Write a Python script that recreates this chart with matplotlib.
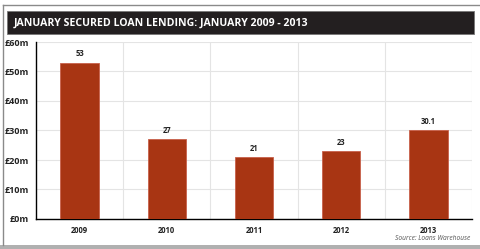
import matplotlib.pyplot as plt
import matplotlib.patches as patches
from matplotlib.lines import Line2D

years = ['2009', '2010', '2011', '2012', '2013']
lending = [53, 27, 21, 23, 30.1]
value_labels = ['53', '27', '21', '23', '30.1']
y_ticks = [0, 10, 20, 30, 40, 50, 60]
y_tick_labels = ['£0m', '£10m', '£20m', '£30m', '£40m', '£50m', '£60m']

W, H = 480, 249
fig = plt.figure(figsize=(W / 100, H / 100), dpi=100)
plt.rcParams['font.family'] = ['Open Sans', 'DejaVu Sans']

# outer frame (top and left only) and bottom band
fig.lines.append(Line2D([2.5 / W, 1], [1 - 5.5 / H, 1 - 5.5 / H], transform=fig.transFigure,
                        color='#8a8a8a', linewidth=1.0))
fig.lines.append(Line2D([2.5 / W, 2.5 / W], [4 / H, 1 - 5.5 / H], transform=fig.transFigure,
                        color='#8a8a8a', linewidth=1.0))
fig.patches.append(patches.Rectangle((0, 0), 1, 4 / H, transform=fig.transFigure,
                                     facecolor='#b0b0b0', edgecolor='none'))
# title bar
fig.patches.append(patches.Rectangle((7 / W, 1 - 34 / H), 467 / W, 23 / H, transform=fig.transFigure,
                                     facecolor='#231f20', edgecolor='#777777', linewidth=0.6))
fig.text(14 / W, 1 - 23 / H, 'JANUARY SECURED LOAN LENDING: JANUARY 2009 - 2013',
         color='white', fontsize=7.6, fontweight='bold', va='center', ha='left')

ax = fig.add_axes([36 / W, 1 - 219 / H, 436 / W, 177 / H])
x = range(len(years))
ax.bar(x, lending, width=0.44, color='#a83513', edgecolor='#c8604a', linewidth=0.6, zorder=3)
for i, (v, lab) in enumerate(zip(lending, value_labels)):
    ax.text(i, v + 1.5, lab, ha='center', va='bottom', fontsize=5.5, fontweight='bold', color='#222222')

ax.set_xlim(-0.5, len(years) - 0.5)
ax.set_ylim(0, 60)
ax.set_yticks(y_ticks)
ax.set_yticklabels(y_tick_labels, fontsize=6.5, fontweight='bold', color='#222222')
ax.set_xticks(list(x))
ax.set_xticklabels(years, fontsize=5.5, fontweight='bold', color='#222222')
ax.tick_params(axis='both', length=0, pad=5)
ax.tick_params(axis='y', pad=5)

ax.set_xticks([i + 0.5 for i in range(len(years))], minor=True)
ax.grid(axis='y', color='#e4e4e4', linewidth=0.8, zorder=0)
ax.grid(axis='x', which='minor', color='#e4e4e4', linewidth=0.8, zorder=0)
ax.tick_params(axis='x', which='minor', length=0)

for s in ['top', 'right']:
    ax.spines[s].set_visible(False)
ax.spines['left'].set_linewidth(1.0)
ax.spines['bottom'].set_linewidth(1.0)

fig.text(470 / W, 1 - 239 / H, 'Source: Loans Warehouse', fontsize=4.8, style='italic',
         color='#555555', ha='right', va='center')

fig.savefig('out.png', dpi=100)
